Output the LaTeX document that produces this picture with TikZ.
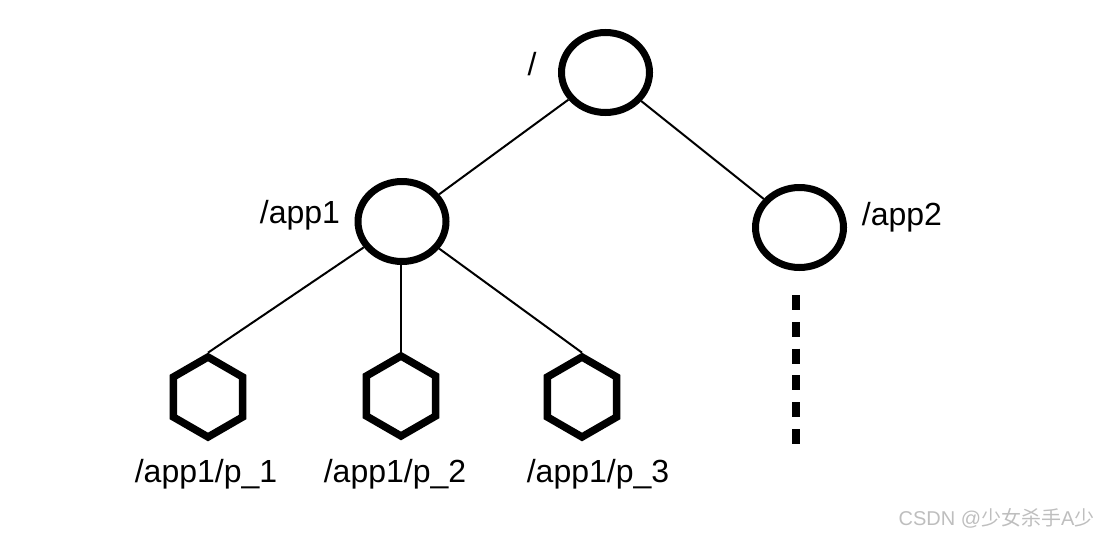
\documentclass[tikz,border=0pt]{standalone}
\usepackage{fontspec}
\setmainfont{Liberation Sans}
\newfontfamily\cjkfont{Noto Sans CJK SC}
\usetikzlibrary{shapes.geometric}
\definecolor{markG}{RGB}{190,190,190}

\begin{document}
\begin{tikzpicture}[x=1pt,y=-1pt,
  znode/.style={ellipse,draw,line width=7pt,fill=white,inner sep=0pt,minimum width=88pt,minimum height=80pt},
  pleaf/.style={regular polygon,regular polygon sides=6,shape border rotate=30,draw,line width=7.5pt,fill=white,inner sep=0pt,minimum size=80pt},
  lbl/.style={font=\fontsize{32}{37}\selectfont,anchor=base},
  link/.style={line width=2pt}]
\useasboundingbox (0,0) rectangle (1102,536);
% ---- znodes
\node[znode] (root) at (605.5,72.5) {};
\node[znode] (app1) at (402,221.5) {};
\node[znode] (app2) at (799.5,227.5) {};
\node[lbl] (lroot) at (532,75) {/};
\node[lbl] (lapp1) at (300,223) {/app1};
\node[lbl] (lapp2) at (902,225) {/app2};
% ---- leaves of /app1
\node[pleaf] (p1) at (208,397) {};
\node[pleaf] (p2) at (401,396) {};
\node[pleaf] (p3) at (582,397) {};
\node[lbl] (lp1) at (206,482) {/app1/p\_1};
\node[lbl] (lp2) at (395,482) {/app1/p\_2};
\node[lbl] (lp3) at (598,482) {/app1/p\_3};
% ---- links
\draw[link] (root) -- (app1);
\draw[link] (root) -- (app2);
\draw[link] (app1) -- (p1.90);
\draw[link] (app1.south -| p2) -- (p2.90);
\draw[link] (app1) -- (p3.90);
% ---- more children of /app2
\coordinate (more) at (796,295);
\coordinate (moreend) at (796,444);
\draw[line width=8pt,dash pattern=on 15pt off 11.8pt] (more) -- (moreend);
\node[font=\fontsize{20}{24}\selectfont,text=markG,anchor=base east] (mark) at (1098,525) {CSDN @{\cjkfont 少女杀手}A{\cjkfont 少}};
\end{tikzpicture}
\end{document}
